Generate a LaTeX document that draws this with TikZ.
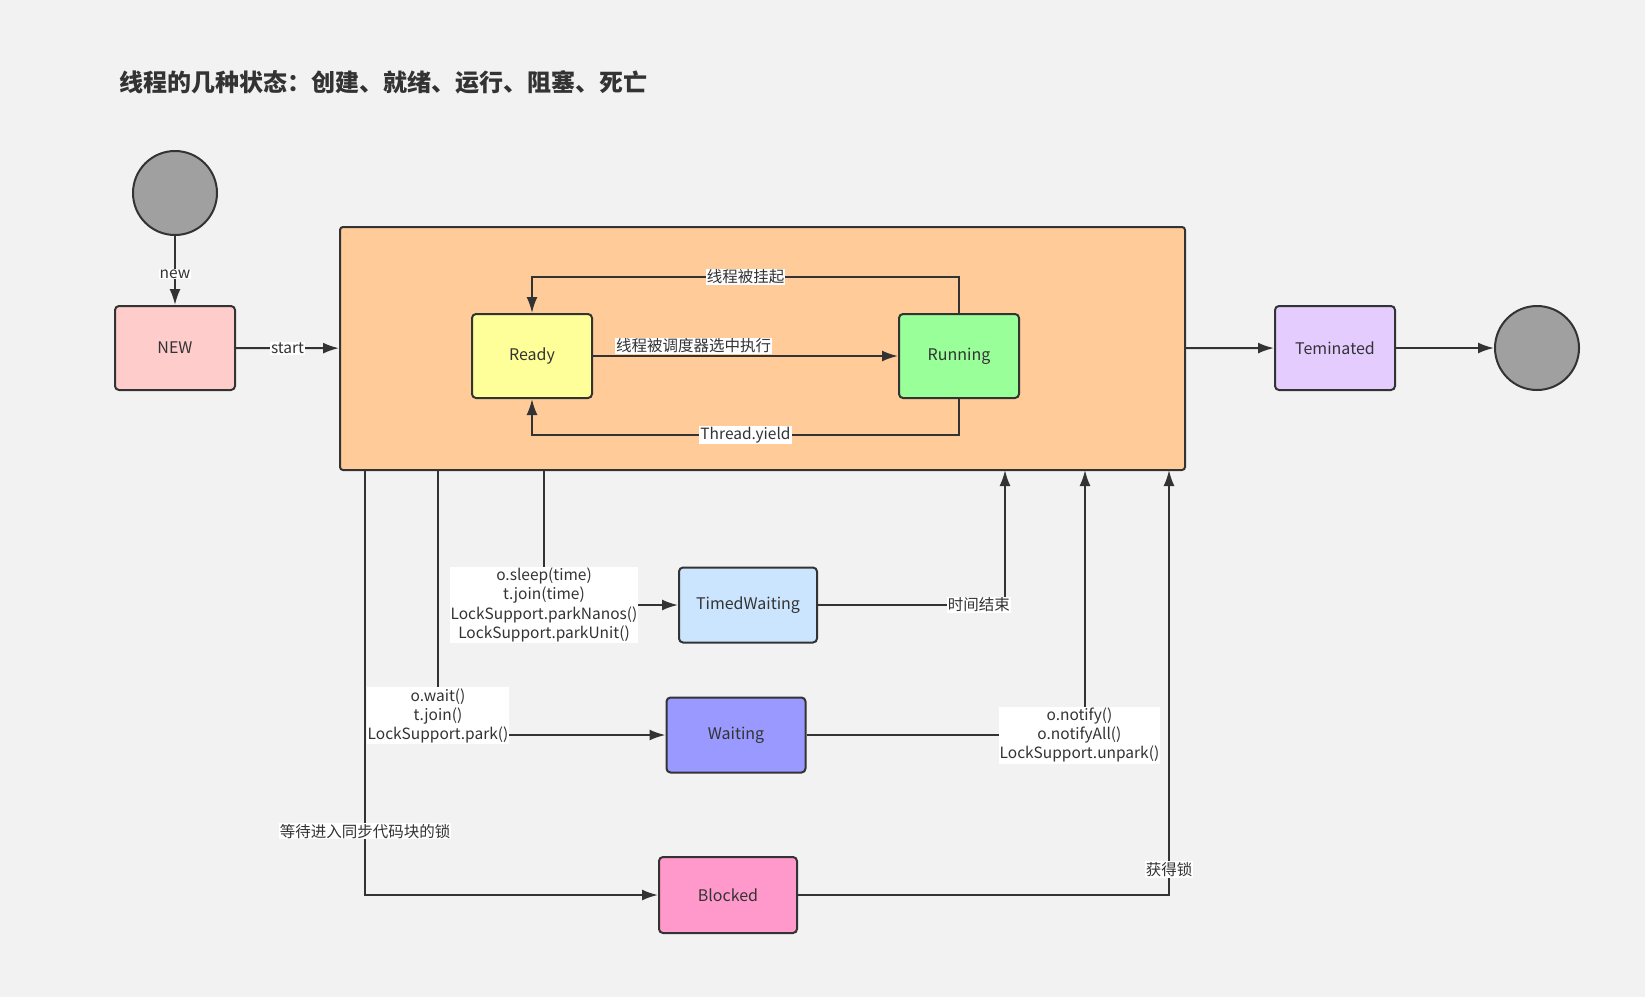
\documentclass[tikz,border=0pt]{standalone}
\usepackage{fontspec}
\setmainfont{Noto Sans CJK SC}
\usetikzlibrary{arrows.meta}

\definecolor{bgcol}{HTML}{F2F2F2}
\definecolor{linecol}{HTML}{333333}
\definecolor{runcol}{HTML}{FFCC99}
\definecolor{newcol}{HTML}{FFCCCC}
\definecolor{readycol}{HTML}{FFFF99}
\definecolor{runningcol}{HTML}{99FF99}
\definecolor{termcol}{HTML}{E5CCFF}
\definecolor{twcol}{HTML}{CCE5FF}
\definecolor{waitcol}{HTML}{9999FF}
\definecolor{blockcol}{HTML}{FF99CC}
\definecolor{dotcol}{HTML}{A0A0A0}

\tikzset{
  state/.style={draw=linecol, line width=2pt, rounded corners=4pt, text=linecol,
    minimum width=120, minimum height=84, font=\fontsize{16}{19}\selectfont},
  dot/.style={circle, draw=linecol, line width=2pt, fill=dotcol, minimum size=84},
  flow/.style={draw=linecol, line width=2pt, -{Latex[length=16pt,width=11pt]}},
  lbl/.style={fill=white, inner sep=1pt, text=linecol, align=center,
    font=\fontsize{15.5}{19.4}\selectfont},
}

\begin{document}
\begin{tikzpicture}[x=1pt,y=-1pt]
  \fill[bgcol] (0,0) rectangle (1645,997);
  \useasboundingbox (0,0) rectangle (1645,997);
  \node[anchor=west, text=linecol, font=\fontsize{24}{27}\selectfont\bfseries] (title) at (116,82)
    {线程的几种状态：创建、就绪、运行、阻塞、死亡};

  % states
  \node[dot] (start) at (175,193) {};
  \node[state, fill=newcol] (new) at (175,348) {NEW};
  \node[state, fill=runcol, rounded corners=3pt, minimum width=845, minimum height=243] (runnable) at (762.5,348.5) {};
  \node[state, fill=readycol] (ready) at (532,356) {Ready};
  \node[state, fill=runningcol] (running) at (959,356) {Running};
  \node[state, fill=termcol] (term) at (1335,348) {Teminated};
  \node[dot] (end) at (1537,348) {};
  \node[state, fill=twcol, minimum width=138, minimum height=75] (tw) at (748,605) {TimedWaiting};
  \node[state, fill=waitcol, minimum width=139, minimum height=75] (wait) at (736,735) {Waiting};
  \node[state, fill=blockcol, minimum width=138, minimum height=76] (blocked) at (728,895) {Blocked};

  \draw[flow] (start) -- node[lbl, pos=0.55]{new} (new);
  \draw[flow] (new) -- node[lbl]{start} (runnable);
  \draw[flow] (runnable) -- (term);
  \draw[flow] (term) -- (end);

  % inside runnable
  \draw[flow] (ready) -- node[lbl, pos=0.33, above=1pt]{线程被调度器选中执行} (running);
  \draw[flow] (running.north) -- ++(0,-36) -| node[lbl, pos=0.25]{线程被挂起} (ready.north);
  \draw[flow] (running.south) -- ++(0,36) -| node[lbl, pos=0.25]{Thread.yield} (ready.south);

  % out of runnable
  \coordinate (b1) at (365,470);
  \coordinate (b2) at (438,470);
  \coordinate (b3) at (544,470);
  \draw[flow] (b1) |- node[lbl, pos=0.425]{等待进入同步代码块的锁} (blocked);
  \draw[flow] (b2) |- node[lbl, pos=0.464]{o.wait()\\t.join()\\LockSupport.park()} (wait);
  \draw[flow] (b3) |- node[lbl]{o.sleep(time)\\t.join(time)\\LockSupport.parkNanos()\\LockSupport.parkUnit()} (tw);

  % back to runnable
  \coordinate (r1) at (1005,470);
  \coordinate (r2) at (1085,470);
  \coordinate (r3) at (1169,470);
  \draw[flow] (tw) -| node[lbl, pos=0.43]{时间结束} (r1);
  \draw[flow] (wait) -| node[lbl, pos=0.49]{o.notify()\\o.notifyAll()\\LockSupport.unpark()} (r2);
  \draw[flow] (blocked) -| node[lbl, pos=0.53]{获得锁} (r3);
\end{tikzpicture}
\end{document}
